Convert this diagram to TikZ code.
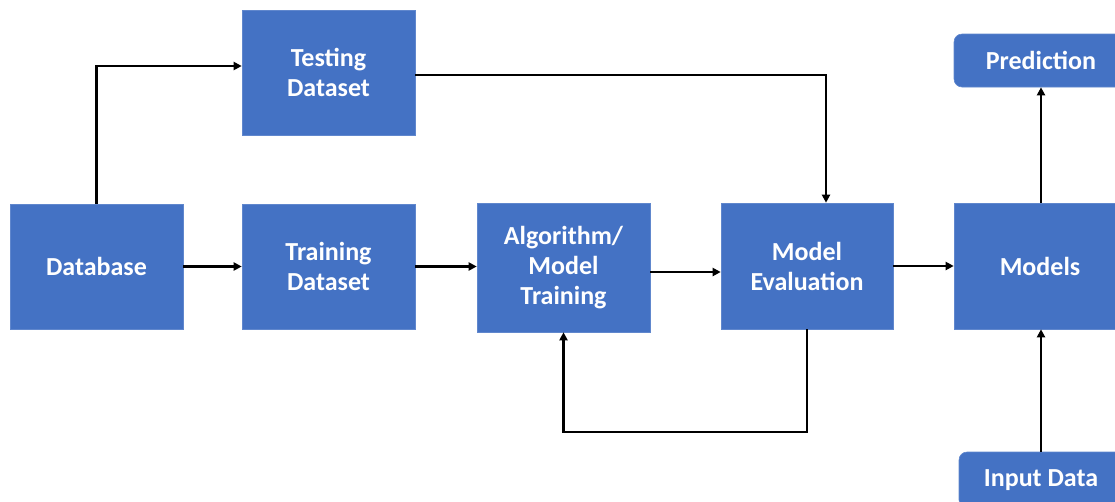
\documentclass[tikz,border=0pt]{standalone}
\usepackage{fontspec}
\setmainfont{Carlito}
\usetikzlibrary{arrows.meta}
\definecolor{boxblue}{HTML}{4472C4}
\tikzset{
  blk/.style={fill=boxblue, draw=boxblue!85!white, line width=0.6pt, text=white,
    font=\bfseries\fontsize{26}{30}\selectfont, align=center, inner sep=0pt},
  rblk/.style={blk, rounded corners=8pt},
  arr/.style={draw=black, line width=2.1pt, -{Stealth[length=8pt,width=8pt,inset=0pt]}}
}
\begin{document}
\begin{tikzpicture}[x=1pt,y=-1pt]
\useasboundingbox (0,0) rectangle (1115,501);
\node[blk, minimum width=173pt, minimum height=125pt] (test) at (328.5,72.5) {Testing\\Dataset};
\node[blk, minimum width=173pt, minimum height=125pt] (db) at (96.5,266.5) {Database};
\node[blk, minimum width=173pt, minimum height=125pt] (train) at (328.5,266.5) {Training\\Dataset};
\node[blk, minimum width=173pt, minimum height=129pt] (alg) at (563.5,267.5) {Algorithm/\\Model\\Training};
\node[blk, minimum width=172pt, minimum height=126pt] (eval) at (807,266) {Model\\Evaluation};
\node[blk, minimum width=172pt, minimum height=126pt] (models) at (1040,266) {Models};
\node[rblk, minimum width=174pt, minimum height=53pt] (pred) at (1041,60.5) {Prediction};
\node[rblk, minimum width=164pt, minimum height=56pt] (input) at (1041,480) {Input Data};

\coordinate (tw) at ([yshift=6.5pt]test.west);
\draw[arr] (db.north) |- (tw);
\draw[arr] (db.east) -- (train.west);
\draw[arr] (train.east) -- (alg.west |- train.east);
\coordinate (te) at ([yshift=-2.5pt]test.east);
\coordinate (en) at ([xshift=19pt]eval.north);
\draw[arr] (te) -| (en);
\coordinate (ae) at ([yshift=-4.5pt]alg.east);
\draw[arr] (ae) -- (ae -| eval.west);
\draw[arr] (eval.east) -- (models.west |- eval.east);
\draw[arr] (eval.south) -- ++(0,103) -| (alg.south);
\draw[arr] (models.north -| pred.south) -- (pred.south);
\draw[arr] (input.north) -- (input.north |- models.south);
\end{tikzpicture}
\end{document}
